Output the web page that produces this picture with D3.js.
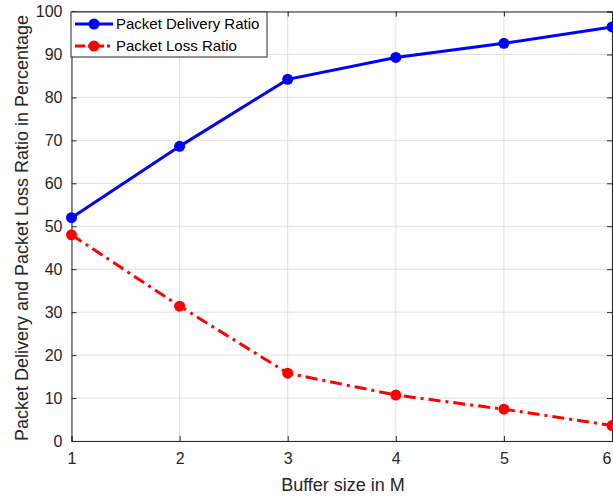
<!DOCTYPE html>
<html><head><meta charset="utf-8">
<script src="https://cdn.jsdelivr.net/npm/d3@7"></script>
<style>body{margin:0;background:#fff;overflow:hidden}svg{display:block}text{font-family:"Liberation Sans",Arial,sans-serif}</style>
</head><body>
<script>
const bufferSizes = [1, 2, 3, 4, 5, 6];
const deliveryRatio = [52.0, 68.6, 84.2, 89.3, 92.6, 96.4];
const lossRatio = [48.0, 31.4, 15.8, 10.7, 7.4, 3.6];
const yTicks = [0, 10, 20, 30, 40, 50, 60, 70, 80, 90, 100];
const seriesNames = ["Packet Delivery Ratio", "Packet Loss Ratio"];
const seriesColors = ["#0000ff", "#ff0000"];

const W = 613, H = 498;
const m = {left: 71.5, right: 612, top: 11.5, bottom: 441};
const svg = d3.select("body").append("svg").attr("width", W).attr("height", H);
const x = d3.scaleLinear().domain([1, 6]).range([m.left, m.right]);
const y = d3.scaleLinear().domain([0, 100]).range([m.bottom, m.top]);
const axisCol = "#262626";

// grid
const g = svg.append("g");
g.selectAll(".gx").data(bufferSizes).enter().append("line")
  .attr("x1", d => x(d)).attr("x2", d => x(d)).attr("y1", m.top).attr("y2", m.bottom)
  .attr("stroke", "#dfdfdf").attr("stroke-width", 1);
g.selectAll(".gy").data(yTicks).enter().append("line")
  .attr("x1", m.left).attr("x2", m.right).attr("y1", d => y(d)).attr("y2", d => y(d))
  .attr("stroke", "#dfdfdf").attr("stroke-width", 1);

// axes
const xAxis = d3.axisBottom(x).tickValues(bufferSizes).tickSize(-5).tickPadding(12).tickFormat(d3.format("d"));
const yAxis = d3.axisLeft(y).tickValues(yTicks).tickSize(-5).tickPadding(9);
const xa = svg.append("g").attr("transform", `translate(0,${m.bottom})`).call(xAxis);
const ya = svg.append("g").attr("transform", `translate(${m.left},0)`).call(yAxis);
const xt = svg.append("g").attr("transform", `translate(0,${m.top})`).call(d3.axisTop(x).tickValues(bufferSizes).tickSize(-5).tickFormat(""));
const yr = svg.append("g").attr("transform", `translate(${m.right},0)`).call(d3.axisRight(y).tickValues(yTicks).tickSize(-5).tickFormat(""));
[xa, ya, xt, yr].forEach(a => {
  a.select(".domain").attr("stroke", axisCol).attr("stroke-width", 1);
  a.selectAll(".tick line").attr("stroke", axisCol);
  a.selectAll("text").attr("fill", axisCol).style("font-size", "16px").style("font-family", '"Liberation Sans",Arial,sans-serif');
});
// last x tick label sits at the window edge; keep it inside
xa.selectAll(".tick text").filter(d => d === 6).attr("text-anchor", "end").attr("dx", "-1");

// axis labels
svg.append("text").attr("x", 343).attr("y", 491).attr("text-anchor", "middle")
  .attr("fill", axisCol).style("font-size", "18px").text("Buffer size in M");
svg.append("text").attr("transform", `translate(28,228) rotate(-90)`).attr("text-anchor", "middle")
  .attr("fill", axisCol).style("font-size", "18px").text("Packet Delivery and Packet Loss Ratio in Percentage");

// series
const series = [deliveryRatio, lossRatio];
const dashes = [null, "12,5,3,5"];
const line = d3.line().x((d, i) => x(bufferSizes[i])).y(d => y(d));
series.forEach((s, k) => {
  svg.append("path").datum(s).attr("d", line).attr("fill", "none")
    .attr("stroke", seriesColors[k]).attr("stroke-width", 3).attr("stroke-dasharray", dashes[k]);
  svg.selectAll(null).data(s).enter().append("circle")
    .attr("cx", (d, i) => x(bufferSizes[i])).attr("cy", d => y(d)).attr("r", 5.5).attr("fill", seriesColors[k]);
});

// legend
const lg = svg.append("g");
lg.append("rect").attr("x", 71).attr("y", 12).attr("width", 196).attr("height", 45)
  .attr("fill", "#fff").attr("stroke", axisCol).attr("stroke-width", 1);
seriesNames.forEach((n, k) => {
  const yy = 24 + k * 22;
  lg.append("line").attr("x1", 75).attr("x2", 113).attr("y1", yy).attr("y2", yy)
    .attr("stroke", seriesColors[k]).attr("stroke-width", 3).attr("stroke-dasharray", k ? "10,3,3,3" : null);
  lg.append("circle").attr("cx", 94).attr("cy", yy).attr("r", 5.5).attr("fill", seriesColors[k]);
  lg.append("text").attr("x", 116).attr("y", yy + 5).attr("fill", "#000").style("font-size", "15px").text(n);
});
</script>
</body></html>
